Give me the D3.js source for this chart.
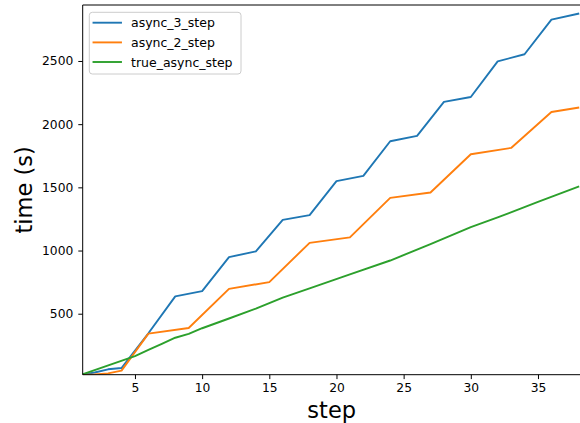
<!DOCTYPE html>
<html>
<head>
<meta charset="utf-8">
<script src="https://cdn.jsdelivr.net/npm/d3@7/dist/d3.min.js"></script>
<style>
  html, body { margin: 0; padding: 0; background: #fff; }
  svg { display: block; font-family: "DejaVu Sans", sans-serif; }
</style>
</head>
<body>
<svg id="chart" width="580" height="423"></svg>
<script>
// ---- data ----
const async3Steps  = [1, 2, 3, 4, 6, 8, 10, 12, 14, 16, 18, 20, 22, 24, 26, 28, 30, 32, 34, 36, 38];
const async3Values = [17, 35, 60, 70, 345, 637, 679, 948, 993, 1243, 1280, 1549, 1591, 1865, 1907, 2176, 2215, 2497, 2553, 2827, 2874];

const async2Steps  = [1, 2, 3, 4, 6, 9, 12, 15, 18, 21, 24, 27, 30, 33, 36, 38];
const async2Values = [17, 20, 28, 50, 342, 387, 697, 750, 1061, 1104, 1417, 1459, 1762, 1812, 2096, 2131];

const trueSteps  = [1, 5, 6, 7, 8, 9, 10, 12, 14, 16, 18, 21, 24, 27, 30, 32, 35, 38];
const trueValues = [17, 165, 213, 262, 310, 340, 385, 462, 540, 628, 700, 811, 921, 1050, 1185, 1262, 1385, 1505];

const seriesNames = ["async_3_step", "async_2_step", "true_async_step"];
const seriesColors = ["#1f77b4", "#ff7f0e", "#2ca02c"];

const xTicks = [5, 10, 15, 20, 25, 30, 35];
const yTicks = [500, 1000, 1500, 2000, 2500];
const xLabel = "step";
const yLabel = "time (s)";

(function () {
  // ---- layout ----
  const pL = 82.7, pR = 580.7, pT = 5, pB = 374.7;
  const svg = d3.select("#chart");

  const x = d3.scaleLinear().domain([1.11, 38.18]).range([pL, pR]);
  const y = d3.scaleLinear().domain([17.4, 2943]).range([pB, pT]);

  svg.append("defs").append("clipPath").attr("id", "plotclip")
    .append("rect").attr("x", pL).attr("y", pT)
    .attr("width", pR - pL).attr("height", pB - pT);

  const series = [
    { name: seriesNames[0], color: seriesColors[0], xs: async3Steps, ys: async3Values },
    { name: seriesNames[1], color: seriesColors[1], xs: async2Steps, ys: async2Values },
    { name: seriesNames[2], color: seriesColors[2], xs: trueSteps, ys: trueValues }
  ];

  const line = d3.line().x(d => x(d[0])).y(d => y(d[1]));

  const g = svg.append("g").attr("clip-path", "url(#plotclip)");
  series.forEach(s => {
    g.append("path")
      .datum(s.xs.map((v, i) => [v, s.ys[i]]))
      .attr("d", line)
      .attr("fill", "none")
      .attr("stroke", s.color)
      .attr("stroke-width", 1.9)
      .attr("stroke-linejoin", "round")
      .attr("stroke-linecap", "square");
  });

  // ---- axes ----
  const fontSize = 12.3;
  const xAxis = svg.append("g").attr("transform", `translate(0,${pB})`)
    .call(d3.axisBottom(x).tickValues(xTicks).tickSize(4.4).tickPadding(4.4).tickFormat(d3.format("d")));
  const yAxis = svg.append("g").attr("transform", `translate(${pL},0)`)
    .call(d3.axisLeft(y).tickValues(yTicks).tickSize(4.4).tickPadding(5).tickFormat(d3.format("d")));

  [xAxis, yAxis].forEach(a => {
    a.select(".domain").remove();
    a.selectAll(".tick line").attr("stroke", "#000").attr("stroke-width", 1);
    a.selectAll(".tick text").attr("fill", "#000").style("font-size", fontSize + "px")
      .style("font-family", "DejaVu Sans");
  });

  // spines
  const spine = (x1, y1, x2, y2) => svg.append("line")
    .attr("x1", x1).attr("y1", y1).attr("x2", x2).attr("y2", y2)
    .attr("stroke", "#000").attr("stroke-width", 1);
  spine(pL, pT, pL, pB);
  spine(pL, pB, pR, pB);
  spine(pL, pT, pR, pT);
  spine(pR, pT, pR, pB);

  // axis labels
  svg.append("text").attr("x", (pL + pR) / 2).attr("y", 418)
    .attr("text-anchor", "middle").style("font-size", "22.5px").attr("fill", "#000")
    .text(xLabel);
  svg.append("text").attr("transform", `translate(32,${(pT + pB) / 2}) rotate(-90)`)
    .attr("text-anchor", "middle").style("font-size", "22.5px").attr("fill", "#000")
    .text(yLabel);

  // legend
  const lg = svg.append("g");
  lg.append("rect").attr("x", 89.3).attr("y", 12.3).attr("width", 151.7).attr("height", 61.7)
    .attr("rx", 3).attr("ry", 3)
    .attr("fill", "#fff").attr("fill-opacity", 0.8)
    .attr("stroke", "#cccccc").attr("stroke-width", 1);
  const rowYs = [22.7, 42.4, 62];
  series.forEach((s, i) => {
    lg.append("line").attr("x1", 93.5).attr("x2", 121).attr("y1", rowYs[i]).attr("y2", rowYs[i])
      .attr("stroke", s.color).attr("stroke-width", 1.9).attr("stroke-linecap", "square");
    lg.append("text").attr("x", 131).attr("y", rowYs[i]).attr("dy", "0.36em")
      .style("font-size", "12.5px").attr("fill", "#000").text(s.name);
  });
})();
</script>
</body>
</html>
